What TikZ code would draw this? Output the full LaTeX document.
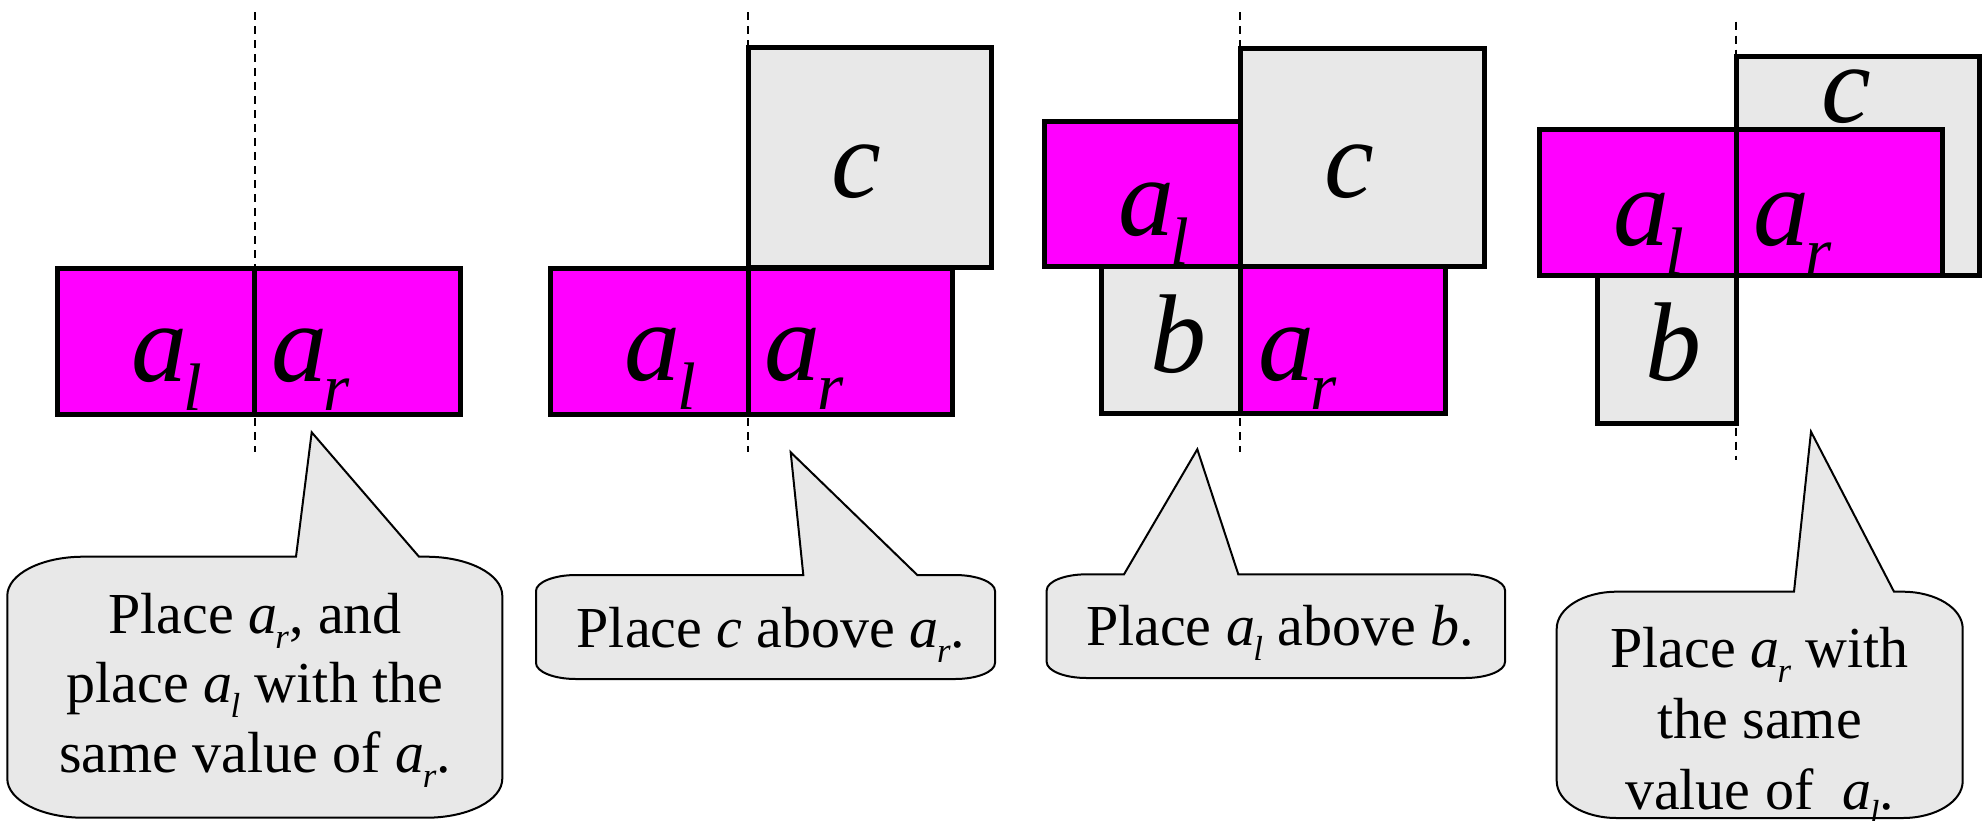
\documentclass[tikz,border=0pt]{standalone}
\usepackage{fontspec}
\setmainfont{Liberation Serif}
\usepackage{graphicx}
\definecolor{mag}{RGB}{255,0,255}
\definecolor{lgrey}{RGB}{232,232,232}
\newcommand{\ai}[1]{\textit{a}\kern-0.03em\raisebox{-0.26em}{\scalebox{0.6}{\textit{#1}}}}
\newcommand{\bubble}[9]{%
 \draw[bubblestyle] (#7,#2) -- (#9) -- (#8,#2) -- ({#3-#5},#2)
  .. controls ({#3-0.4477*#5},#2) and (#3,{#2+0.4477*#6}) .. (#3,{#2+#6})
  -- (#3,{#4-#6})
  .. controls (#3,{#4-0.4477*#6}) and ({#3-0.4477*#5},#4) .. ({#3-#5},#4)
  -- ({#1+#5},#4)
  .. controls ({#1+0.4477*#5},#4) and (#1,{#4-0.4477*#6}) .. (#1,{#4-#6})
  -- (#1,{#2+#6})
  .. controls (#1,{#2+0.4477*#6}) and ({#1+0.4477*#5},#2) .. ({#1+#5},#2)
  -- cycle;}
\tikzset{
 magbox/.style={draw=black, fill=mag, line width=5pt, line join=miter},
 greybox/.style={draw=black, fill=lgrey, line width=5pt, line join=miter},
 guide/.style={draw=black, line width=2pt, dash pattern=on 8pt off 6pt},
 bubblestyle/.style={draw=black, fill=lgrey, line width=2pt, line join=miter},
 btext/.style={inner sep=0pt, anchor=base west, font=\fontsize{112}{112}\selectfont},
 ctext/.style={inner sep=0pt, anchor=base, font=\fontsize{58}{68}\selectfont},
}
\begin{document}
\begin{tikzpicture}[x=1pt,y=-1pt]
\useasboundingbox (0,0) rectangle (1984,820);
% guide lines
\coordinate (g1t) at (255.3,12);   \coordinate (g1b) at (255.3,452);
\coordinate (g2t) at (747.7,12);   \coordinate (g2b) at (747.7,452);
\coordinate (g3t) at (1240,12);    \coordinate (g3b) at (1240,452);
\coordinate (g4t) at (1736,21.7);  \coordinate (g4b) at (1736,460);
\draw[guide] (g1t) -- (g1b);
\draw[guide] (g2t) -- (g2b);
\draw[guide] (g3t) -- (g3b);
\draw[guide] (g4t) -- (g4b);
% panel 1
\draw[magbox] (57,268) rectangle (254.3,414);
\draw[magbox] (254.3,268) rectangle (460.3,414);
\node[btext] (p1al) at (131,381) {\ai{l}};
\node[btext] (p1ar) at (271,381) {\ai{r}};
% panel 2
\draw[greybox] (748,47.5) rectangle (991.7,267.5);
\draw[magbox] (550.8,268) rectangle (748,414);
\draw[magbox] (748,268) rectangle (952.8,414);
\node[btext] (p2c) at (831,197) {\textit{c}};
\node[btext] (p2al) at (624.7,380) {\ai{l}};
\node[btext] (p2ar) at (764.7,380) {\ai{r}};
% panel 3
\draw[greybox] (1240.8,48.2) rectangle (1484.2,266.8);
\draw[magbox] (1044.2,121.5) rectangle (1240.8,266.8);
\draw[greybox] (1101.5,266.8) rectangle (1240.8,413.5);
\draw[magbox] (1240.8,266.8) rectangle (1445.8,413.5);
\node[btext] (p3c) at (1324,197) {\textit{c}};
\node[btext] (p3al) at (1118,235) {\ai{l}};
\node[btext] (p3b) at (1150,372) {\textit{b}};
\node[btext] (p3ar) at (1258,380) {\ai{r}};
% panel 4
\draw[greybox] (1736.8,56.5) rectangle (1979.8,275.8);
\draw[magbox] (1539.8,129.8) rectangle (1736.8,275.8);
\draw[magbox] (1736.8,129.8) rectangle (1942.5,275.8);
\draw[greybox] (1597.5,275.8) rectangle (1736.8,423.2);
\node[btext] (p4c) at (1821,122) {\textit{c}};
\node[btext] (p4al) at (1613,245) {\ai{l}};
\node[btext] (p4ar) at (1753,245) {\ai{r}};
\node[btext] (p4b) at (1645,380) {\textit{b}};
% callouts
\coordinate (tip1) at (311.7,432.3);
\coordinate (tip2) at (790.7,452.3);
\coordinate (tip3) at (1197.3,449.3);
\coordinate (tip4) at (1811,431.7);
\bubble{7.3}{556.7}{502.3}{817.7}{76}{39}{296}{419}{tip1}
\bubble{536}{575}{995}{679}{40}{16}{803.3}{917.3}{tip2}
\bubble{1046.7}{574.3}{1505}{678}{40}{16}{1124}{1238.3}{tip3}
\bubble{1556.7}{591.7}{1962.7}{818}{60}{37}{1794}{1894}{tip4}
\node[ctext] (c1a) at (255,633) {Place \ai{r}, and};
\node[ctext] (c1b) at (255,702) {place \ai{l} with the};
\node[ctext] (c1c) at (255,772) {same value of \ai{r}.};
\node[ctext] (c2a) at (771,647) {Place \textit{c} above \ai{r}.};
\node[ctext] (c3a) at (1280,645) {Place \ai{l} above \textit{b}.};
\node[ctext] (c4a) at (1759.5,667) {Place \ai{r} with};
\node[ctext] (c4b) at (1759.5,738) {the same};
\node[ctext] (c4c) at (1759.5,809) {value of~ \ai{l}.};
\end{tikzpicture}
\end{document}
